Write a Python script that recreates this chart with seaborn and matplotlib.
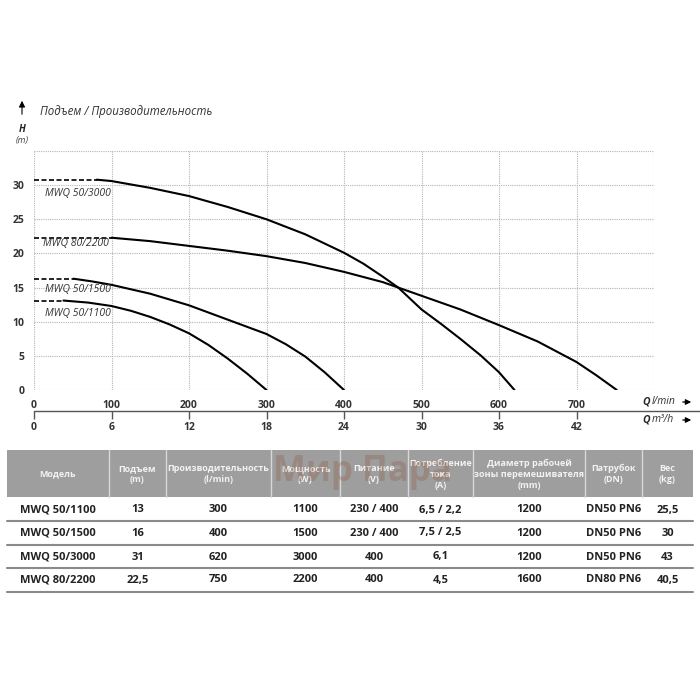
import pandas as pd
import matplotlib.pyplot as plt
import seaborn as sns
from matplotlib.patches import Rectangle

sns.set_style('white')
plt.rcParams['font.family'] = ['Open Sans', 'DejaVu Sans']

# pump curves: flow Q (l/min) vs head H (m)
models = ['MWQ 50/3000', 'MWQ 80/2200', 'MWQ 50/1500', 'MWQ 50/1100']
q_3000 = [81, 100, 150, 200, 250, 300, 350, 400, 425, 450, 470, 500, 525, 550, 576, 600, 620]
h_3000 = [30.8, 30.6, 29.6, 28.4, 26.8, 25.0, 22.8, 20.1, 18.5, 16.6, 15.0, 11.8, 9.7, 7.5, 5.1, 2.6, 0]
q_2200 = [100, 150, 200, 250, 300, 350, 400, 450, 470, 500, 550, 600, 650, 700, 725, 752]
h_2200 = [22.3, 21.8, 21.1, 20.4, 19.6, 18.6, 17.3, 15.8, 15.0, 13.8, 11.8, 9.5, 7.1, 4.1, 2.2, 0]
q_1500 = [51, 75, 100, 150, 200, 250, 300, 325, 350, 375, 400]
h_1500 = [16.3, 15.9, 15.4, 14.1, 12.4, 10.3, 8.2, 6.7, 4.9, 2.6, 0]
q_1100 = [38, 70, 100, 125, 150, 175, 200, 225, 250, 275, 300]
h_1100 = [13.1, 12.8, 12.3, 11.6, 10.7, 9.6, 8.3, 6.6, 4.6, 2.4, 0]
label_q = [14, 12, 14, 14]
label_h = [28.8, 21.4, 14.7, 11.2]

q_ticks = [0, 100, 200, 300, 400, 500, 600, 700, 800]
h_ticks = [0, 5, 10, 15, 20, 25, 30, 35]
m3h_ticks = [0, 6, 12, 18, 24, 30, 36, 42]

# table below the chart
headers = ['Модель', 'Подъем\n(m)', 'Производительность\n(l/min)', 'Мощность\n(W)',
           'Питание\n(V)', 'Потребление\nтока\n(A)',
           'Диаметр рабочей\nзоны перемешивателя\n(mm)', 'Патрубок\n(DN)', 'Вес\n(kg)']
col_model = ['MWQ 50/1100', 'MWQ 50/1500', 'MWQ 50/3000', 'MWQ 80/2200']
col_head = ['13', '16', '31', '22,5']
col_flow = ['300', '400', '620', '750']
col_power = ['1100', '1500', '3000', '2200']
col_volt = ['230 / 400', '230 / 400', '400', '400']
col_amp = ['6,5 / 2,2', '7,5 / 2,5', '6,1', '4,5']
col_diam = ['1200', '1200', '1200', '1600']
col_pipe = ['DN50 PN6', 'DN50 PN6', 'DN50 PN6', 'DN80 PN6']
col_weight = ['25,5', '30', '43', '40,5']

curves = {models[0]: (q_3000, h_3000), models[1]: (q_2200, h_2200),
          models[2]: (q_1500, h_1500), models[3]: (q_1100, h_1100)}
rows = []
dash_rows = []
for m, (qs, hs) in curves.items():
    for q, h in zip(qs, hs):
        rows.append({'model': m, 'q': q, 'h': h})
    dash_rows.append({'model': m, 'q': 0, 'h': hs[0]})
    dash_rows.append({'model': m, 'q': qs[0], 'h': hs[0]})
df = pd.DataFrame(rows)
df_dash = pd.DataFrame(dash_rows)

fig = plt.figure(figsize=(7, 7), dpi=100)

# full-figure layer in pixel coordinates for table and loose text
lay = fig.add_axes([0, 0, 1, 1])
lay.set_xlim(0, 700)
lay.set_ylim(700, 0)
lay.axis('off')
lay.patch.set_visible(False)

def box(x0, y0, x1, y1):
    return [x0 / 700, 1 - y1 / 700, (x1 - x0) / 700, (y1 - y0) / 700]

ax = fig.add_axes(box(34, 151, 654, 390))
ax.set_xlim(0, 800)
ax.set_ylim(0, 35)
ax.set_xticks(q_ticks)
ax.set_xticklabels([str(v) for v in q_ticks[:-1]] + [''])
ax.set_yticks(h_ticks)
ax.set_yticklabels([str(v) for v in h_ticks[:-1]] + [''])
ax.grid(True, color='#b5b5b5', linestyle=(0, (1, 1)), linewidth=0.8)
for s in ax.spines.values():
    s.set_visible(False)
ax.tick_params(length=0, labelsize=7.5, colors='#333333', pad=7)
for t in ax.get_xticklabels() + ax.get_yticklabels():
    t.set_fontweight('bold')

sns.lineplot(data=df, x='q', y='h', units='model', estimator=None, sort=False,
             color='black', linewidth=1.5, ax=ax)
sns.lineplot(data=df_dash, x='q', y='h', units='model', estimator=None, sort=False,
             color='black', linewidth=1.2, linestyle=(0, (3, 1.5)), ax=ax)
ax.set_xlabel('')
ax.set_ylabel('')
for m, lq, lh in zip(models, label_q, label_h):
    ax.text(lq, lh, m, fontsize=7.5, style='italic', color='#333333', va='center')

# second flow scale in m3/h
sec = ax.secondary_xaxis(-0.088, functions=(lambda q: q * 0.06, lambda v: v / 0.06))
sec.xaxis.set_ticks_position('bottom')
sec.set_xticks(m3h_ticks)
sec.set_xticklabels([str(v) for v in m3h_ticks])
for s in sec.spines.values():
    s.set_visible(False)
sec.tick_params(length=6, width=1, color='#555555', labelcolor='#333333', labelsize=7.5, pad=2)
for t in sec.get_xticklabels():
    t.set_fontweight('bold')
lay.plot([34, 700], [411, 411], color='#555555', linewidth=1)

# titles and axis names
lay.annotate('', xy=(22, 98), xytext=(22, 117),
             arrowprops=dict(arrowstyle='-|>', color='black', lw=0.8, mutation_scale=9))
lay.text(40, 111, 'Подъем / Производительность', fontsize=8.3, style='italic',
         color='#333333', va='center')
lay.text(22, 130, 'H', fontsize=7, style='italic', fontweight='bold', ha='center', va='center')
lay.text(22, 141, '(m)', fontsize=6.5, style='italic', color='#444444', ha='center', va='center')
for y, unit in [(402, 'l/min'), (420, 'm³/h')]:
    lay.text(650, y, 'Q', fontsize=7.5, style='italic', fontweight='bold', ha='right', va='center')
    lay.text(652, y, unit, fontsize=7.5, style='italic', color='#333333', va='center')
    lay.annotate('', xy=(694, y), xytext=(680, y),
                 arrowprops=dict(arrowstyle='-|>', color='black', lw=0.9, mutation_scale=8))

# table
col_edges = [7, 109, 166, 271, 340, 408, 473, 585, 642, 693]
lay.add_patch(Rectangle((7, 450), 686, 47, facecolor='#9e9e9e', edgecolor='none'))
for x in col_edges[1:-1]:
    lay.plot([x, x], [450, 497], color='#d8d8d8', linewidth=1)
for i, h in enumerate(headers):
    cx = (col_edges[i] + col_edges[i + 1]) / 2
    lay.text(cx, 474, h, fontsize=6.5, fontweight='bold', color='#f2f2f2',
             ha='center', va='center', linespacing=1.3)
columns = [col_model, col_head, col_flow, col_power, col_volt, col_amp, col_diam, col_pipe, col_weight]
row_y = [510, 533, 557, 580]
for j, col in enumerate(columns):
    cx = (col_edges[j] + col_edges[j + 1]) / 2
    for y, val in zip(row_y, col):
        lay.text(cx, y, val, fontsize=8, fontweight='bold', color='#222222', ha='center', va='center')
for y in [521, 545, 568, 592]:
    lay.plot([7, 693], [y, y], color='#8a8a8a', linewidth=1.5)

# faint watermark drawn over the header, as in the source image
lay.text(362, 472, 'Мир Пара', fontsize=25, fontweight='bold', color='#8b4a2b',
         alpha=0.25, ha='center', va='center', zorder=5)

fig.savefig('out.png', dpi=100, facecolor='white')
